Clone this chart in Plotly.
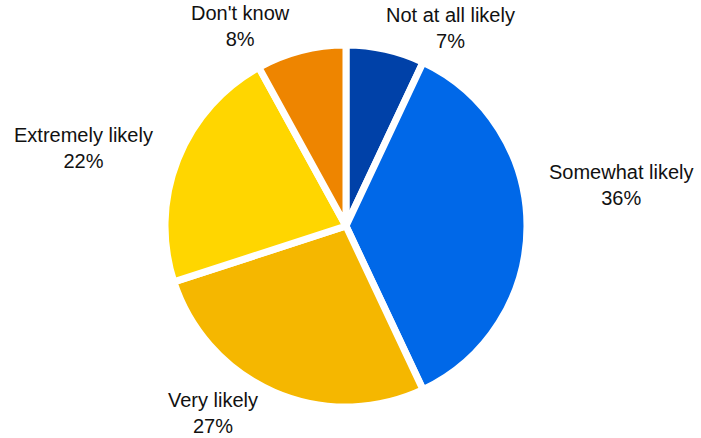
import plotly.graph_objects as go

categories = ["Not at all likely", "Somewhat likely", "Very likely", "Extremely likely", "Don't know"]
values = [7, 36, 27, 22, 8]
colors = ["#0041A8", "#0068E8", "#F5B700", "#FFD600", "#EE8500"]

W, H = 701, 438
cx, cy, r = 346, 226, 181

fig = go.Figure(go.Pie(
    labels=categories,
    values=values,
    sort=False,
    direction="clockwise",
    rotation=0,
    marker=dict(colors=colors, line=dict(color="white", width=7)),
    textinfo="none",
    hoverinfo="label+percent",
    domain=dict(x=[(cx - r) / W, (cx + r) / W], y=[(H - cy - r) / H, (H - cy + r) / H]),
    showlegend=False,
))

label_pos = [(450, 28), (621, 185), (213, 413), (83, 148), (240, 26)]
total = sum(values)
for cat, v, (x, y) in zip(categories, values, label_pos):
    fig.add_annotation(
        x=x / W, y=1 - y / H, xref="paper", yref="paper",
        text=f"{cat}<br>{round(100 * v / total)}%",
        showarrow=False, xanchor="center", yanchor="middle",
        font=dict(family="Liberation Sans, Arial, sans-serif", size=20, color="#111111"),
    )

fig.update_layout(
    width=W, height=H,
    margin=dict(l=0, r=0, t=0, b=0),
    paper_bgcolor="white", plot_bgcolor="white",
)

fig.write_html("out.html", config={"displayModeBar": False},
               post_script="document.body.style.margin='0';")
